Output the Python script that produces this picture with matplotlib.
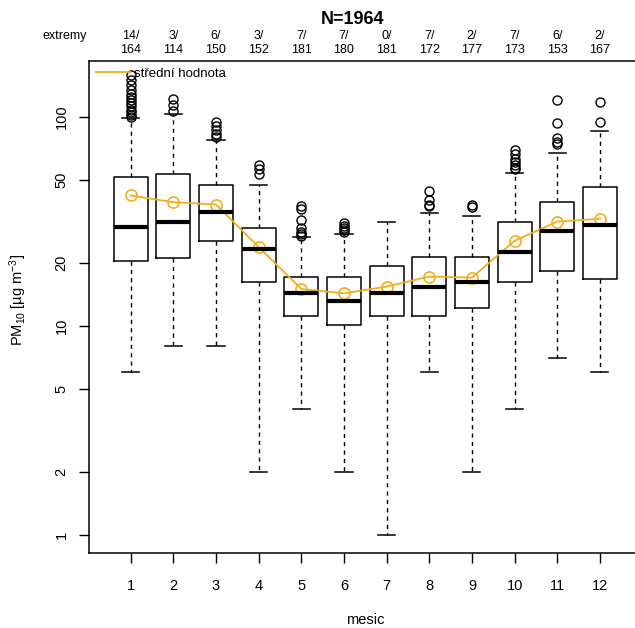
import matplotlib
matplotlib.use('Agg')
from matplotlib import pyplot as plt
from matplotlib import transforms
from matplotlib.lines import Line2D

plt.rcParams['font.family'] = ['Liberation Sans', 'DejaVu Sans']
plt.rcParams['mathtext.fontset'] = 'custom'
plt.rcParams['mathtext.rm'] = 'Liberation Sans'
plt.rcParams['mathtext.it'] = 'Liberation Sans'

mesic = [1, 2, 3, 4, 5, 6, 7, 8, 9, 10, 11, 12]
q1 = [20.5, 21.2, 25.5, 16.2, 11.2, 10.1, 11.2, 11.2, 12.2, 16.2, 18.3, 16.8]
median = [29.6, 31.5, 35.0, 23.4, 14.3, 13.2, 14.3, 15.3, 16.2, 22.5, 28.5, 30.5]
q3 = [51.5, 53.0, 47.0, 29.5, 17.2, 17.2, 19.3, 21.3, 21.3, 31.5, 39.0, 46.0]
whis_lo = [6.0, 8.0, 8.0, 2.0, 4.0, 2.0, 1.0, 6.0, 2.0, 4.0, 7.0, 6.0]
whis_hi = [98, 103, 77, 47, 26.5, 27.5, 31.5, 34.5, 33.5, 54, 67, 85]
prumer = [42, 39, 38, 23.8, 15.0, 14.3, 15.4, 17.2, 17.0, 25.5, 31.5, 32.5]
outliers = [
    [158, 150, 142, 134, 128, 124, 120, 116, 112, 108, 105, 102, 100],
    [121, 114, 106],
    [94, 90, 86, 83, 80],
    [59, 56, 53],
    [37.5, 36, 32, 29.5, 28, 27.5, 27],
    [31, 30, 29.3, 28.6, 28.2],
    [],
    [44, 40, 38, 37.5],
    [38, 37],
    [69, 66, 63, 61, 59, 57, 56],
    [120, 93, 79, 76, 74],
    [117, 94],
]
extremy = [14, 3, 6, 3, 7, 7, 0, 7, 2, 7, 6, 2]
pocet = [164, 114, 150, 152, 181, 180, 181, 172, 177, 173, 153, 167]

stats = []
for i in range(len(mesic)):
    stats.append(dict(q1=q1[i], med=median[i], q3=q3[i], whislo=whis_lo[i],
                      whishi=whis_hi[i], fliers=outliers[i]))

orange = '#F2AE1C'

fig = plt.figure(figsize=(6.35, 6.28), dpi=100)
ax = fig.add_axes([89.3/635, 1-552.7/628, 552/635, (552.7-61)/628])

ax.bxp(stats, positions=mesic, widths=0.8, capwidths=0.4,
       boxprops=dict(color='black', lw=1.1),
       medianprops=dict(color='black', lw=3, solid_capstyle='butt'),
       whiskerprops=dict(color='black', lw=1.0, ls=(0, (3, 3))),
       capprops=dict(color='black', lw=1.1),
       flierprops=dict(marker='o', mfc='none', mec='black', ms=6.5, mew=1.0))

ax.plot(mesic, prumer, color=orange, lw=1.3, marker='o', mfc='none',
        mec=orange, ms=8, mew=1.2)

ax.set_yscale('log')
ax.set_ylim(0.823, 184.5)
ax.set_xlim(0.03, 12.97)
yt = [1, 2, 5, 10, 20, 50, 100]
ax.set_yticks(yt)
ax.set_yticklabels([str(v) for v in yt], rotation=90, va='center', fontsize=10.5)
ax.minorticks_off()
ax.set_xticks(mesic)
ax.set_xticklabels([str(m) for m in mesic], fontsize=10.5)
ax.tick_params(direction='out', length=7, width=1, pad=12)
ax.tick_params(axis='y', pad=8)
for s in ax.spines.values():
    s.set_linewidth(1.1)

ax.legend(handles=[Line2D([], [], color=orange, lw=1.3)],
          labels=['střední hodnota'], loc='upper left', frameon=False,
          fontsize=9.5, handlelength=2.6, handletextpad=0.3,
          borderaxespad=0.2, borderpad=0.3)

trans = transforms.blended_transform_factory(ax.transData, fig.transFigure)
for i, m in enumerate(mesic):
    ax.text(m, 1-36/628, f'{extremy[i]}/', transform=trans, ha='center',
            va='center', fontsize=9)
    ax.text(m, 1-50/628, f'{pocet[i]}', transform=trans, ha='center',
            va='center', fontsize=9)
fig.text(65/635, 1-36/628, 'extremy', ha='center', va='center', fontsize=9)

fig.text(352/635, 1-19/628, 'N=1964', ha='center', va='center',
         fontsize=13, fontweight='bold')
fig.text(18/635, 1-300/628, r'PM$_{10}$ [µg m$^{-3}$]', rotation=90,
         ha='center', va='center', fontsize=10.5)
fig.text(365/635, 1-620/628, 'mesic', ha='center', va='center', fontsize=10.5)

fig.savefig('out.png', dpi=100)
